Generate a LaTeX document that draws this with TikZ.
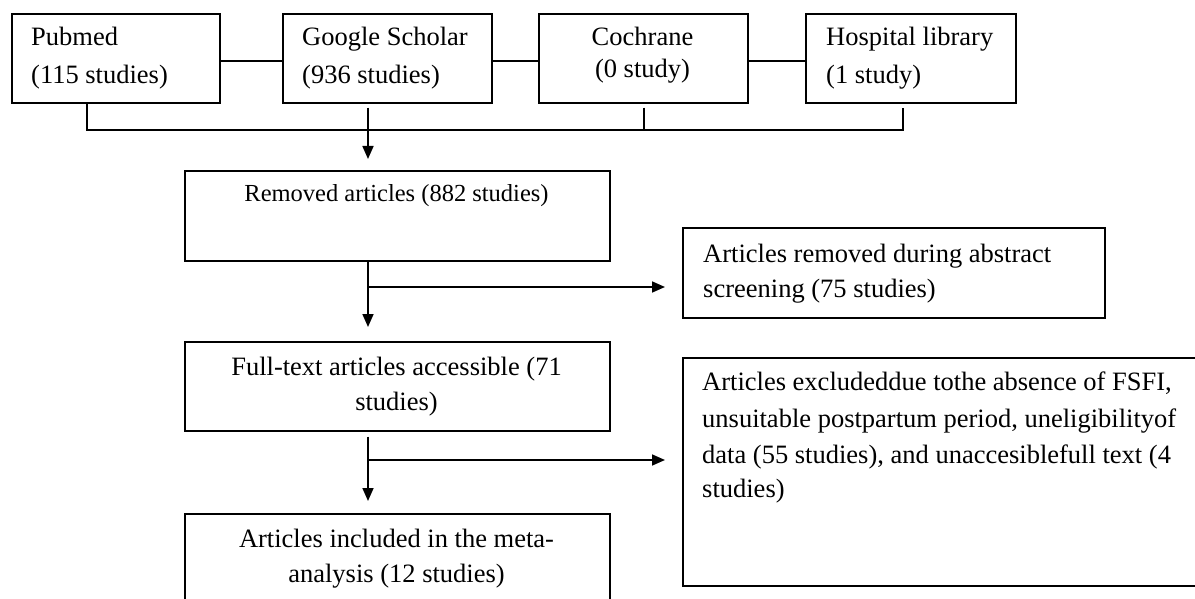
\documentclass[tikz,border=0pt]{standalone}
\usepackage{fontspec}
\setmainfont{Liberation Serif}
\usetikzlibrary{arrows.meta}
\begin{document}
\begin{tikzpicture}[x=1pt,y=-1pt,
  box/.style={draw, line width=1.7pt, inner sep=0pt, anchor=north west},
  txt/.style={inner sep=0pt, font=\fontsize{26.5}{30}\selectfont},
  lw/.style={txt, anchor=base west},
  lc/.style={txt, anchor=base},
  ln/.style={line width=1.7pt},
  arr/.style={line width=1.7pt, -{Triangle[length=13pt,width=11pt]}}]
\useasboundingbox[fill=white] (0,0) rectangle (1195,599);

% boxes
\node[box, minimum width=208pt, minimum height=89pt] (pub) at (11,13) {};
\node[box, minimum width=209pt, minimum height=89pt] (gs) at (282,13) {};
\node[box, minimum width=209pt, minimum height=89pt] (coch) at (538,13) {};
\node[box, minimum width=210pt, minimum height=89pt] (hosp) at (805,13) {};
\node[box, minimum width=425pt, minimum height=90pt] (rem) at (184,170) {};
\node[box, minimum width=422pt, minimum height=90pt] (abs) at (682,227) {};
\node[box, minimum width=425pt, minimum height=89pt] (full) at (184,341) {};
\node[box, minimum width=525pt, minimum height=228pt] (excl) at (682,357) {};
\node[box, minimum width=425pt, minimum height=100pt] (final) at (184,513) {};

% texts
\node[lw] (pubA) at (31,46) {Pubmed};
\node[lw] (pubB) at (31,84) {(115 studies)};
\node[lw] (gsA) at (302,46) {Google Scholar};
\node[lw] (gsB) at (302,84) {(936 studies)};
\node[lc] (cochA) at (642.5,46) {Cochrane};
\node[lc] (cochB) at (642.5,78) {(0 study)};
\node[lw] (hospA) at (826,46) {Hospital library};
\node[lw] (hospB) at (826,84) {(1 study)};
\node[lc, font=\fontsize{24.5}{30}\selectfont] (remA) at (396.5,202) {Removed articles (882 studies)};
\node[lw] (absA) at (703,262) {Articles removed during abstract};
\node[lw] (absB) at (703,297) {screening (75 studies)};
\node[lc] (fullA) at (396.5,375) {Full-text articles accessible (71};
\node[lc] (fullB) at (396.5,410) {studies)};
\node[lc] (finalA) at (396.5,547) {Articles included in the meta-};
\node[lc] (finalB) at (396.5,582) {analysis (12 studies)};
\begin{scope}[every node/.append style={font=\fontsize{25.8}{30}\selectfont}]
\node[lw] (exclA) at (702,390) {Articles excludeddue tothe absence of FSFI,};
\node[lw] (exclB) at (702,427) {unsuitable postpartum period, uneligibilityof};
\node[lw] (exclC) at (702,463) {data (55 studies), and unaccesiblefull text (4};
\node[lw] (exclD) at (702,497) {studies)};
\end{scope}

% junction coordinates
\coordinate (ax) at (368,0);
\coordinate (bl) at (87,130);
\coordinate (br) at (903,130);
\coordinate (bc) at (644,130);
\coordinate (j1) at (368,287);
\coordinate (j2) at (368,460);

% connectors
\draw[ln] ([yshift=-2.5pt]pub.east) -- ([yshift=-2.5pt]gs.west);
\draw[ln] ([yshift=-2.5pt]gs.east) -- ([yshift=-2.5pt]coch.west);
\draw[ln] ([yshift=-2.5pt]coch.east) -- ([yshift=-2.5pt]hosp.west);
\draw[ln] (pub.south -| bl) -- (bl) -- (br) -- ([yshift=-4pt]hosp.south -| br);
\draw[ln] ([yshift=-4pt]coch.south -| bc) -- (bc);
\draw[arr] ([yshift=-4pt]gs.south -| ax) -- ([yshift=11pt]rem.north -| ax);
\draw[arr] (rem.south -| ax) -- ([yshift=14pt]full.north -| ax);
\draw[arr] (j1) -- ([xshift=-17pt]abs.west |- j1);
\draw[arr] ([yshift=-5pt]full.south -| ax) -- ([yshift=12pt]final.north -| ax);
\draw[arr] (j2) -- ([xshift=-17pt]excl.west |- j2);
\end{tikzpicture}
\end{document}
